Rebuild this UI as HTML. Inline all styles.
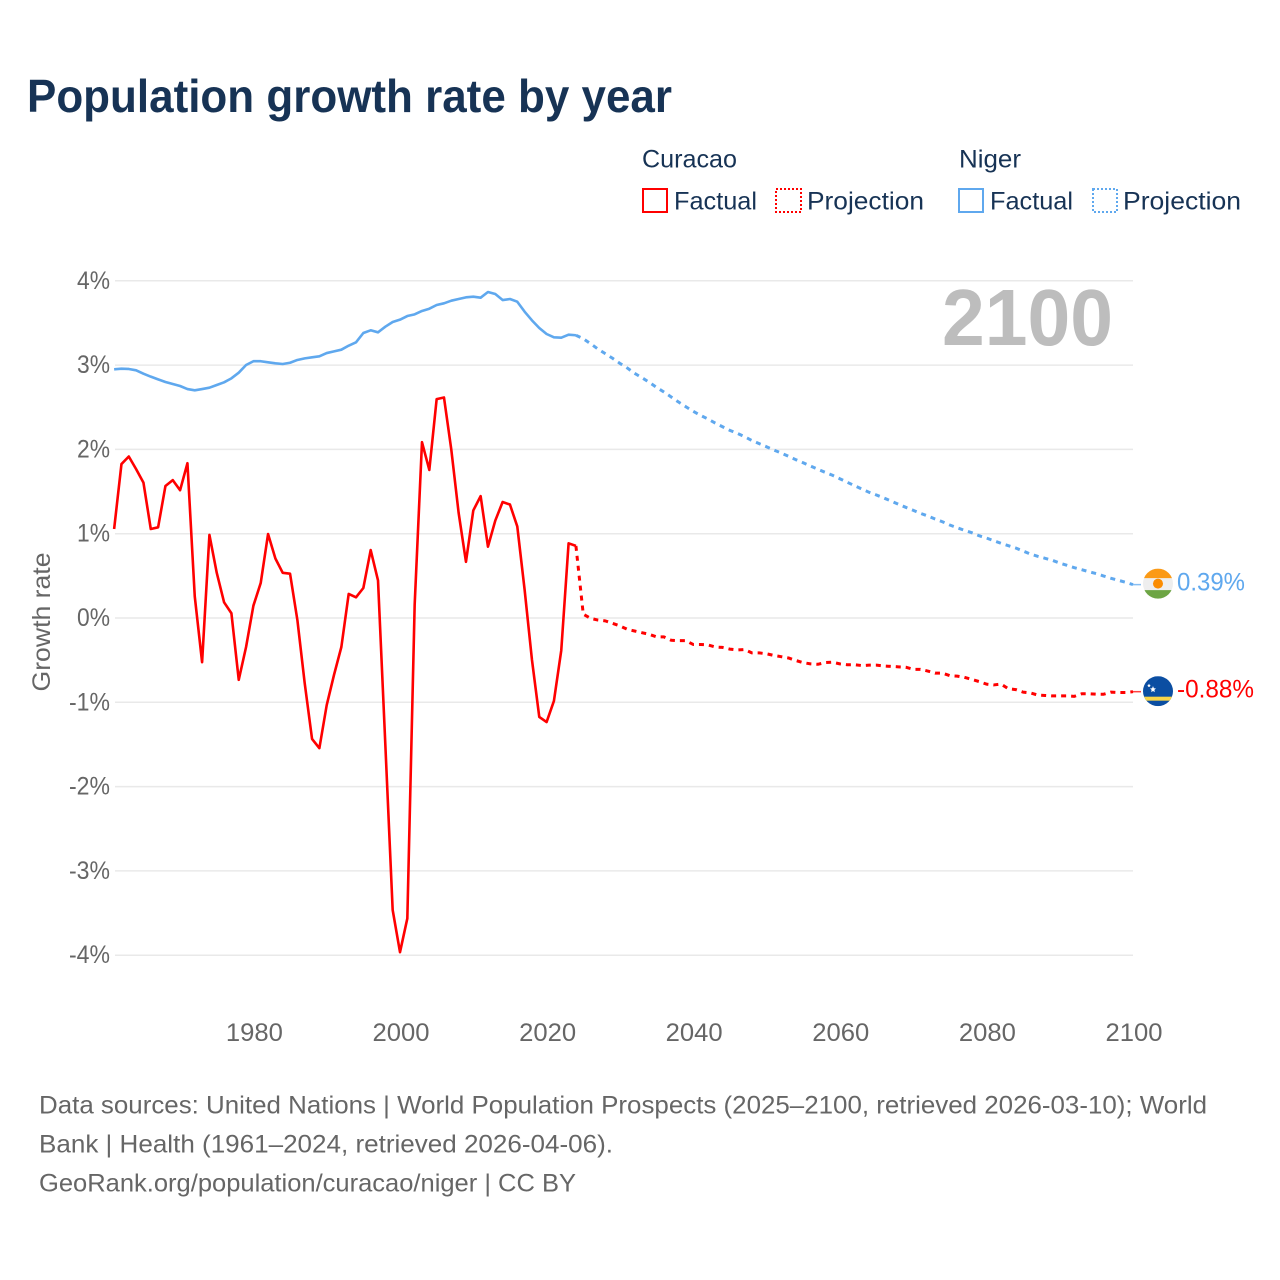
<!DOCTYPE html>
<html lang="en">
<head>
<meta charset="utf-8">
<title>Population growth rate by year</title>
<style>
html,body{margin:0;padding:0;background:#fff;}
body{width:1280px;height:1280px;overflow:hidden;}
svg{display:block;font-family:"Liberation Sans",sans-serif;}
</style>
</head>
<body>
<svg id="chart" xmlns="http://www.w3.org/2000/svg" width="1280" height="1280" viewBox="0 0 1280 1280">
  <defs>
    <clipPath id="flag-clip"><circle cx="0" cy="0" r="15"/></clipPath>
  </defs>
  <rect x="0" y="0" width="1280" height="1280" fill="#ffffff"/>
  <text x="27" y="112" font-size="46" font-weight="700" fill="#173355" textLength="645" lengthAdjust="spacingAndGlyphs">Population growth rate by year</text>

  <g font-size="25" fill="#173355">
    <text x="642" y="167.500" textLength="95" lengthAdjust="spacingAndGlyphs">Curacao</text>
    <text x="959" y="167.500" textLength="62" lengthAdjust="spacingAndGlyphs">Niger</text>
    <rect x="643" y="189" width="24" height="23" fill="none" stroke="#ff0000" stroke-width="2"/>
    <text x="674" y="209.500" textLength="83" lengthAdjust="spacingAndGlyphs">Factual</text>
    <rect x="776" y="189" width="25" height="23" fill="none" stroke="#ff0000" stroke-width="2" stroke-dasharray="2 2"/>
    <text x="807" y="209.500" textLength="117" lengthAdjust="spacingAndGlyphs">Projection</text>
    <rect x="959" y="189" width="24" height="23" fill="none" stroke="#5fa8ee" stroke-width="2"/>
    <text x="990" y="209.500" textLength="83" lengthAdjust="spacingAndGlyphs">Factual</text>
    <rect x="1093" y="189" width="24" height="23" fill="none" stroke="#5fa8ee" stroke-width="2" stroke-dasharray="2 2"/>
    <text x="1123" y="209.500" textLength="118" lengthAdjust="spacingAndGlyphs">Projection</text>
  </g>

  <g id="grid"></g>
  <g id="y-labels" font-size="25" fill="#666666"></g>
  <g id="x-labels" font-size="25" fill="#666666"></g>
  <text transform="translate(50,622) rotate(-90)" text-anchor="middle" font-size="25" fill="#666666" textLength="139" lengthAdjust="spacingAndGlyphs">Growth rate</text>
  <text x="942" y="345" font-size="80" font-weight="700" fill="#bdbdbd" textLength="171" lengthAdjust="spacingAndGlyphs">2100</text>

  <g id="series"></g>

  <g id="flag-niger">
    <g clip-path="url(#flag-clip)">
      <rect x="-15" y="-15" width="30" height="30" fill="#eeeeee"/>
      <rect x="-15" y="-15" width="30" height="9.500" fill="#fb9a16"/>
      <rect x="-15" y="6.500" width="30" height="9" fill="#6da544"/>
      <circle cx="0" cy="0" r="5" fill="#fb8c00"/>
    </g>
  </g>
  <g id="flag-curacao">
    <g clip-path="url(#flag-clip)">
      <rect x="-15" y="-15" width="30" height="30" fill="#0b4ea2"/>
      <rect x="-15" y="5.500" width="30" height="4" fill="#f9d548"/>
      <polygon points="-5,-5 -4.100,-2.900 -2,-2.700 -3.600,-1.300 -3.200,0.900 -5,-0.200 -6.800,0.900 -6.400,-1.300 -8,-2.700 -5.900,-2.900" fill="#ffffff"/>
      <polygon points="-9,-7.500 -8.400,-6.300 -7.200,-6.200 -8.100,-5.300 -7.800,-4 -9,-4.700 -10.200,-4 -9.900,-5.300 -10.800,-6.200 -9.600,-6.300" fill="#ffffff"/>
    </g>
  </g>
  <g id="end-labels" font-size="25"></g>

  <g font-size="25" fill="#666666">
    <text x="39" y="1113.500" textLength="1168" lengthAdjust="spacingAndGlyphs">Data sources: United Nations | World Population Prospects (2025–2100, retrieved 2026-03-10); World</text>
    <text x="39" y="1152.500" textLength="574" lengthAdjust="spacingAndGlyphs">Bank | Health (1961–2024, retrieved 2026-04-06).</text>
    <text x="39" y="1191.500" textLength="537" lengthAdjust="spacingAndGlyphs">GeoRank.org/population/curacao/niger | CC BY</text>
  </g>
</svg>
<script>
const factualStartYear = 1961;
const projectionStartYear = 2024;
const yTicks = [4, 3, 2, 1, 0, -1, -2, -3, -4];
const yTickLabels = ['4%', '3%', '2%', '1%', '0%', '-1%', '-2%', '-3%', '-4%'];
const xTicks = [1980, 2000, 2020, 2040, 2060, 2080, 2100];
const xTickLabels = ['1980', '2000', '2020', '2040', '2060', '2080', '2100'];
const endValueLabels = ['0.39%', '-0.88%'];

const curacaoFactual = [1.05,1.82,1.91,1.76,1.60,1.05,1.07,1.56,1.63,1.51,1.83,0.25,-0.53,0.98,0.53,0.18,0.05,-0.74,-0.35,0.14,0.41,0.99,0.70,0.53,0.52,-0.03,-0.78,-1.44,-1.55,-1.04,-0.68,-0.35,0.28,0.24,0.35,0.80,0.44,-1.51,-3.47,-3.97,-3.57,0.15,2.08,1.75,2.59,2.61,1.99,1.24,0.66,1.27,1.44,0.84,1.15,1.37,1.34,1.08,0.33,-0.50,-1.18,-1.24,-0.99,-0.39,0.88,0.85];
const curacaoProjection = [0.85,0.04,-0.01,-0.03,-0.04,-0.07,-0.10,-0.14,-0.16,-0.18,-0.20,-0.23,-0.23,-0.27,-0.275,-0.275,-0.32,-0.32,-0.325,-0.35,-0.355,-0.375,-0.385,-0.38,-0.42,-0.42,-0.43,-0.45,-0.465,-0.48,-0.51,-0.535,-0.55,-0.555,-0.535,-0.53,-0.55,-0.56,-0.56,-0.57,-0.565,-0.565,-0.575,-0.58,-0.585,-0.59,-0.615,-0.615,-0.635,-0.66,-0.66,-0.69,-0.695,-0.71,-0.735,-0.76,-0.79,-0.80,-0.79,-0.845,-0.855,-0.885,-0.895,-0.92,-0.925,-0.93,-0.93,-0.93,-0.935,-0.905,-0.905,-0.91,-0.91,-0.885,-0.89,-0.89,-0.88];
const nigerFactual = [2.944,2.951,2.948,2.932,2.892,2.857,2.825,2.794,2.77,2.746,2.71,2.695,2.71,2.726,2.758,2.79,2.837,2.904,2.995,3.04,3.04,3.027,3.015,3.007,3.022,3.055,3.074,3.086,3.098,3.137,3.157,3.177,3.225,3.264,3.375,3.407,3.383,3.45,3.505,3.533,3.576,3.596,3.636,3.663,3.707,3.727,3.758,3.778,3.798,3.806,3.794,3.861,3.837,3.766,3.778,3.746,3.628,3.525,3.434,3.363,3.324,3.319,3.355,3.348];
const nigerProjection = [3.348,3.307,3.248,3.185,3.13,3.075,3.015,2.96,2.897,2.845,2.79,2.73,2.675,2.616,2.556,2.50,2.446,2.398,2.355,2.307,2.263,2.22,2.185,2.145,2.10,2.062,2.026,1.987,1.951,1.912,1.872,1.836,1.797,1.758,1.722,1.687,1.646,1.605,1.564,1.524,1.485,1.453,1.418,1.382,1.343,1.307,1.272,1.236,1.204,1.168,1.136,1.097,1.065,1.034,1.006,0.97,0.943,0.911,0.88,0.852,0.824,0.789,0.753,0.726,0.702,0.678,0.646,0.619,0.591,0.567,0.543,0.52,0.492,0.465,0.441,0.418,0.39];

const SVG_NS = 'http://www.w3.org/2000/svg';
const RED = '#ff0000';
const BLUE = '#5fa8ee';
function xScale(year) { return 1133 - (2100 - year) * 7.33; }
function yScale(value) { return 617.5 - 84.3 * value; }
function make(tag, parent) {
  const el = document.createElementNS(SVG_NS, tag);
  document.getElementById(parent).appendChild(el);
  return el;
}
function linePath(values, startYear) {
  return values.map(function (v, i) {
    return (i ? 'L' : 'M') + xScale(startYear + i).toFixed(2) + ' ' + yScale(v).toFixed(2);
  }).join(' ');
}
function styleLine(el, values, startYear, color, dashed) {
  el.setAttribute('d', linePath(values, startYear));
  el.setAttribute('fill', 'none');
  el.setAttribute('stroke', color);
  el.setAttribute('stroke-width', dashed ? '3' : '2.6');
  el.setAttribute('stroke-linejoin', 'round');
  if (dashed) el.setAttribute('stroke-dasharray', '5 5');
}

yTicks.forEach(function (tick, i) {
  const grid = make('line', 'grid');
  
  
  grid.setAttribute('x1', 115);
  grid.setAttribute('x2', 1133);
  grid.setAttribute('y1', yScale(tick) + 0.5);
  grid.setAttribute('y2', yScale(tick) + 0.5);
  grid.setAttribute('stroke', '#e9e9e9');
  grid.setAttribute('stroke-width', '1.5');
  const label = make('text', 'y-labels');
  
  
  const txt = yTickLabels[i];
  const w = txt.charAt(0) === '-' ? 41 : 33;
  label.setAttribute('x', 110 - w);
  label.setAttribute('y', yScale(tick) + 8.5);
  label.setAttribute('textLength', w);
  label.setAttribute('lengthAdjust', 'spacingAndGlyphs');
  label.textContent = txt;
});

xTicks.forEach(function (tick, i) {
  const label = make('text', 'x-labels');
  
  
  label.setAttribute('x', xScale(tick) - 27.5);
  label.setAttribute('y', 1041);
  label.setAttribute('textLength', 57);
  label.setAttribute('lengthAdjust', 'spacingAndGlyphs');
  label.textContent = xTickLabels[i];
});

const nigerFactualLine = make('path', 'series');


styleLine(nigerFactualLine, nigerFactual, factualStartYear, BLUE, false);

const nigerProjectionLine = make('path', 'series');


styleLine(nigerProjectionLine, nigerProjection, projectionStartYear, BLUE, true);

const curacaoFactualLine = make('path', 'series');


styleLine(curacaoFactualLine, curacaoFactual, factualStartYear, RED, false);

const curacaoProjectionLine = make('path', 'series');


styleLine(curacaoProjectionLine, curacaoProjection, projectionStartYear, RED, true);

const nigerEnd = yScale(nigerProjection[nigerProjection.length - 1]);
const curacaoEnd = yScale(curacaoProjection[curacaoProjection.length - 1]);

const nigerConnector = make('line', 'series');


nigerConnector.setAttribute('x1', xScale(2100));
nigerConnector.setAttribute('x2', xScale(2100) + 8);
nigerConnector.setAttribute('y1', nigerEnd);
nigerConnector.setAttribute('y2', nigerEnd);
nigerConnector.setAttribute('stroke', BLUE);
nigerConnector.setAttribute('stroke-width', '1.5');
nigerConnector.setAttribute('stroke-opacity', '0.75');

const curacaoConnector = make('line', 'series');


curacaoConnector.setAttribute('x1', xScale(2100));
curacaoConnector.setAttribute('x2', xScale(2100) + 8);
curacaoConnector.setAttribute('y1', curacaoEnd);
curacaoConnector.setAttribute('y2', curacaoEnd);
curacaoConnector.setAttribute('stroke', RED);
curacaoConnector.setAttribute('stroke-width', '1.5');
curacaoConnector.setAttribute('stroke-opacity', '0.75');

document.getElementById('flag-niger').setAttribute('transform', 'translate(1158,' + (nigerEnd - 1) + ')');
document.getElementById('flag-curacao').setAttribute('transform', 'translate(1158,' + (curacaoEnd - 0.5) + ')');

const nigerValue = make('text', 'end-labels');


nigerValue.setAttribute('x', 1177);
nigerValue.setAttribute('y', nigerEnd + 6);
nigerValue.setAttribute('fill', BLUE);
nigerValue.setAttribute('textLength', 68);
nigerValue.setAttribute('lengthAdjust', 'spacingAndGlyphs');
nigerValue.textContent = endValueLabels[0];

const curacaoValue = make('text', 'end-labels');


curacaoValue.setAttribute('x', 1177);
curacaoValue.setAttribute('y', curacaoEnd + 6);
curacaoValue.setAttribute('fill', RED);
curacaoValue.setAttribute('textLength', 77);
curacaoValue.setAttribute('lengthAdjust', 'spacingAndGlyphs');
curacaoValue.textContent = endValueLabels[1];
</script>
</body>
</html>
